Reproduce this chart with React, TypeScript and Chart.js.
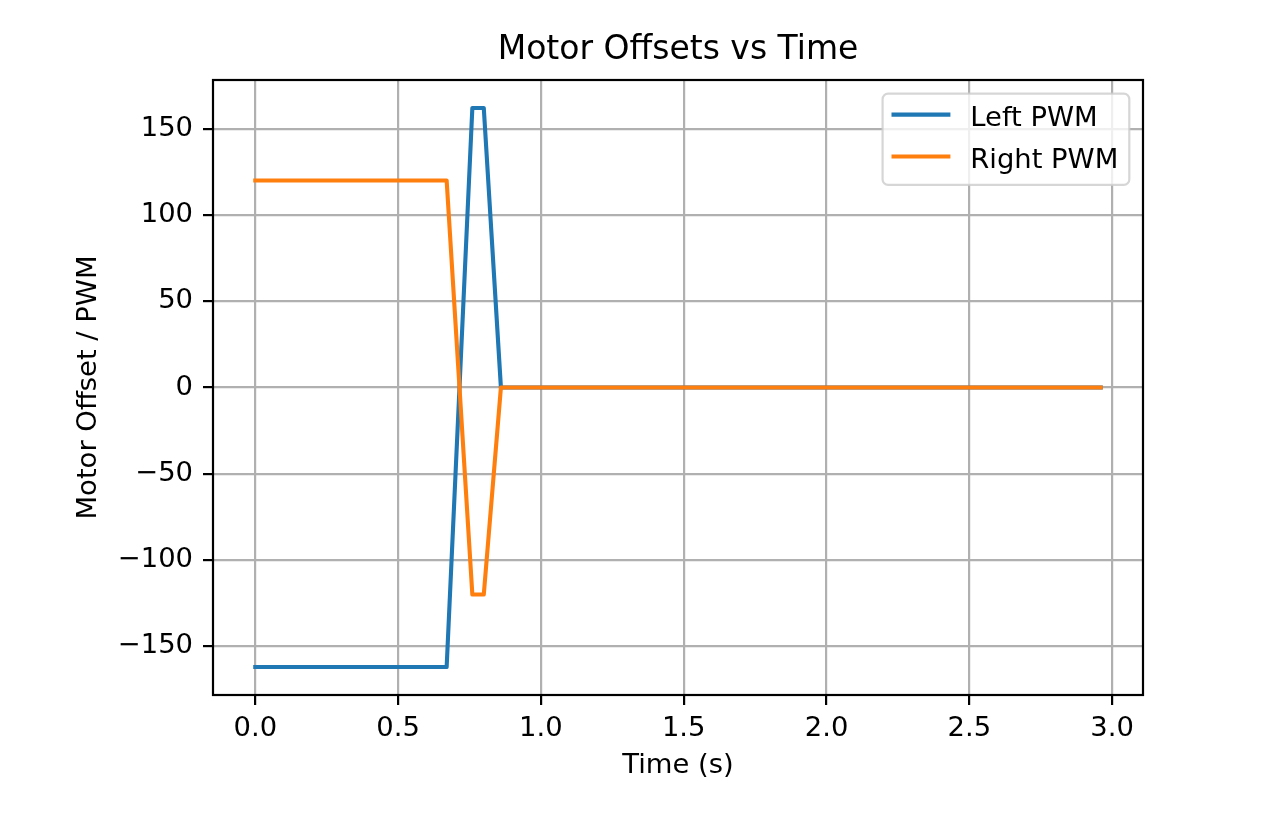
import { useEffect, useRef } from "react";
import { Chart, registerables } from "chart.js";

Chart.register(...registerables);

// breakpoints of the recorded motor commands (time in s)
const times = [0, 0.67, 0.76, 0.8, 0.86, 2.96];
const leftPwm = [-162, -162, 162, 162, 0, 0];
const rightPwm = [120, 120, -120, -120, 0, 0];

const seriesNames = ["Left PWM", "Right PWM"];
const seriesColors = ["#1f77b4", "#ff7f0e"];

const FONT = "'DejaVu Sans', 'Liberation Sans', sans-serif";
const EM = 27.4; // 10pt text at the figure's scale
const LW = 4.1; // line width
const THIN = 2.2; // spines, grid, ticks

// matplotlib-style 5% data margins
const pad5 = (lo: number, hi: number) => [lo - (hi - lo) * 0.05, hi + (hi - lo) * 0.05];
const [xMin, xMax] = pad5(Math.min(...times), Math.max(...times));
const allY = [...leftPwm, ...rightPwm];
const [yMin, yMax] = pad5(Math.min(...allY), Math.max(...allY));

const frameAndLegend = {
  id: "frameAndLegend",
  afterDraw: (chart: any) => {
    const { ctx, chartArea } = chart;
    ctx.save();

    // spines
    ctx.strokeStyle = "#000";
    ctx.lineWidth = THIN;
    ctx.strokeRect(
      chartArea.left,
      chartArea.top,
      chartArea.right - chartArea.left,
      chartArea.bottom - chartArea.top
    );

    // legend, upper right
    const pad = 0.4 * EM;
    const handle = 2 * EM;
    const gap = 0.8 * EM;
    const pitch = 1.53 * EM;
    ctx.font = `${EM}px ${FONT}`;
    const textW = Math.max(...seriesNames.map((n) => ctx.measureText(n).width));
    const w = pad * 2 + handle + gap + textW;
    const h = pad * 2 + EM + pitch * (seriesNames.length - 1);
    const right = chartArea.right - 0.5 * EM;
    const top = chartArea.top + 0.5 * EM;
    const left = right - w;

    ctx.beginPath();
    ctx.roundRect(left, top, w, h, 0.2 * EM);
    ctx.fillStyle = "rgba(255,255,255,0.8)";
    ctx.fill();
    ctx.strokeStyle = "rgba(204,204,204,0.8)";
    ctx.lineWidth = THIN;
    ctx.stroke();

    seriesNames.forEach((name, i) => {
      const cy = top + pad + 0.4 * EM + i * pitch;
      ctx.beginPath();
      ctx.moveTo(left + pad, cy - 1);
      ctx.lineTo(left + pad + handle, cy - 1);
      ctx.strokeStyle = seriesColors[i];
      ctx.lineWidth = LW;
      ctx.lineCap = "square";
      ctx.stroke();
      ctx.fillStyle = "#000";
      ctx.textAlign = "left";
      ctx.textBaseline = "alphabetic";
      ctx.fillText(name, left + pad + handle + gap, cy + 0.365 * EM);
    });

    ctx.restore();
  },
};

export default function App() {
  const canvasRef = useRef<HTMLCanvasElement>(null);

  useEffect(() => {
    const ctx = canvasRef.current!.getContext("2d")!;
    const series = [leftPwm, rightPwm];

    const chart = new Chart(ctx, {
      type: "line",
      data: {
        datasets: series.map((vals, i) => ({
          label: seriesNames[i],
          data: times.map((t, j) => ({ x: t, y: vals[j] })),
          borderColor: seriesColors[i],
          backgroundColor: seriesColors[i],
          borderWidth: LW,
          borderJoinStyle: "round" as const,
          borderCapStyle: "square" as const,
          pointRadius: 0,
          tension: 0,
          fill: false,
          order: series.length - 1 - i, // later series on top
        })),
      },
      options: {
        responsive: false,
        animation: false,
        events: [],
        layout: { padding: { left: 0, right: 143, top: 0, bottom: 0 } },
        plugins: {
          legend: { display: false },
          tooltip: { enabled: false },
          title: {
            display: true,
            text: "Motor Offsets vs Time",
            fullSize: false,
            color: "#000",
            font: { family: FONT, size: 33, weight: "normal" },
            padding: { top: 31, bottom: 9.4 },
          },
        },
        scales: {
          x: {
            type: "linear",
            min: xMin,
            max: xMax,
            afterFit: (scale: any) => {
              scale.height = 129;
            },
            border: { display: false },
            grid: {
              color: "#b0b0b0",
              lineWidth: THIN,
              tickColor: "#000",
              tickWidth: THIN,
              tickLength: 10,
            },
            ticks: {
              stepSize: 0.5,
              includeBounds: false,
              autoSkip: false,
              maxRotation: 0,
              padding: 7,
              color: "#000",
              font: { family: FONT, size: EM },
              callback: (v: any) => Number(v).toFixed(1),
            },
            title: {
              display: true,
              text: "Time (s)",
              color: "#000",
              font: { family: FONT, size: EM },
              padding: { top: 0, bottom: 42 },
            },
          },
          y: {
            type: "linear",
            min: yMin,
            max: yMax,
            afterFit: (scale: any) => {
              scale.width = 213;
            },
            border: { display: false },
            grid: {
              color: "#b0b0b0",
              lineWidth: THIN,
              tickColor: "#000",
              tickWidth: THIN,
              tickLength: 10,
            },
            ticks: {
              stepSize: 50,
              includeBounds: false,
              autoSkip: false,
              padding: 10,
              color: "#000",
              font: { family: FONT, size: EM },
              callback: (v: any) =>
                Number(v) < 0 ? "\u2212" + Math.abs(Number(v)) : String(v),
            },
            title: {
              display: true,
              text: "Motor Offset / PWM",
              color: "#000",
              font: { family: FONT, size: EM },
              padding: { top: 72, bottom: 0 },
            },
          },
        },
      },
      plugins: [frameAndLegend],
    });

    return () => chart.destroy();
  }, []);

  return (
    <div
      style={{
        position: "fixed",
        left: 0,
        top: 0,
        width: 1286,
        height: 824,
        background: "#fff",
      }}
    >
      <canvas ref={canvasRef} width={1286} height={824} style={{ display: "block" }} />
    </div>
  );
}
